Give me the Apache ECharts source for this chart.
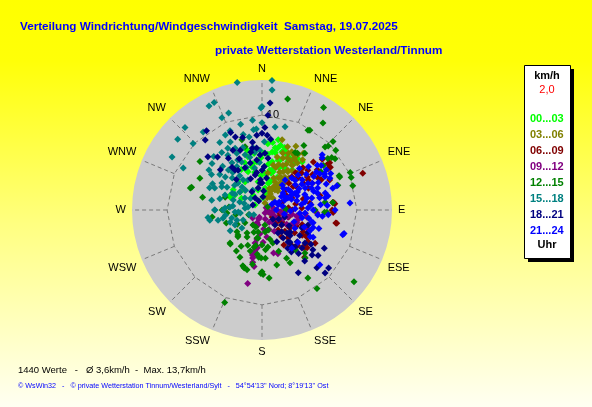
<!DOCTYPE html>
<html>
<head>
<meta charset="utf-8">
<script src="https://cdn.jsdelivr.net/npm/echarts@6/dist/echarts.min.js"></script>
<style>
  html, body { margin: 0; padding: 0; }
  #chart01 { width: 592px; height: 407px; }
</style>
</head>
<body>
<div id="chart01"></div>
<script>
// wind direction names, one per 22.5 degrees, clockwise from north
var dirNames = ['N','NNE','NE','ENE','E','ESE','SE','SSE','S','SSW','SW','WSW','W','WNW','NW','NNW'];
var ringSpeed = 10;     // km/h, dashed ring with label
var maxSpeed = 13.7;    // km/h, edge of the disc

// legend labels (time slots) and their colours
var slotNames = ['00...03','03...06','06...09','09...12','12...15','15...18','18...21','21...24'];
var slotColors = ['#00ff00','#808000','#800000','#800080','#008000','#008080','#000080','#0000ff'];

// [speed km/h, direction deg], one list per slot
var h00_03 = [[7.6,13],[7.1,16],[6.7,12],[6.8,21],[6.4,24],[6.6,35],[6.1,35],[5.3,37],[5.5,18],[4.35,14],[2.9,13],
  [6.5,346],[4.65,347],[4.0,349],[3.6,292],[0.9,305],[4.5,339],
  [6.7,14],[6.2,13],[5.2,12],[4.3,11],[3.4,9],[2.35,8],[1.3,5],[5.1,354],[4.1,350],[3.0,352],[4.3,340],[3.45,329],
  [3.25,299],[3.7,305],[3.7,295],[5.6,20],[6.5,19],[6.2,10],[1.8,329],[2.75,319],[4.2,16],[5.0,349],[3.9,5],[6.6,40],
  [2.15,349],[5.8,28],[4.8,22],[3.2,18],[2.0,15],[5.9,6],[4.6,3],[3.6,358],
  [7.2,9],[7.0,5],[6.0,2],[5.5,359],[4.9,8],[4.0,14],[3.0,15],[2.2,20],[1.5,12],[5.8,345],[5.3,340],[4.8,333],
  [3.9,320],[3.0,310],[2.5,300],[6.2,28],[5.0,28],[3.8,25],[2.6,28],[7.0,20],[6.0,352]];
var h03_06 = [[7.7,16],[7.4,36],[6.5,32],[5.7,34],[5.0,33],[4.2,35],[3.4,34],[2.5,33],[1.6,31],[5.8,16],[4.9,14],[3.95,9],
  [6.6,25],[6.1,26],[5.2,25],[4.4,25],[3.25,25],[2.1,24],[1.4,23],[5.7,34],[4.85,34],[3.85,35],[2.9,36],[1.7,43],
  [6.3,33],[3.8,27],[2.7,26],[4.6,29],[5.5,44],[6.2,37],[6.8,39],[0.8,23],[5.5,28],[4.0,30],[3.0,30],[6.0,30],
  [7.2,22],[6.9,27],[7.0,33],[6.4,20],[5.9,22],[5.1,20],[4.7,18],[3.6,20],[2.4,19],[1.9,28],[5.2,38],[4.4,40],
  [3.6,40],[2.6,40],[6.7,30],[7.6,28]];
var h06_09 = [[11.3,70],[8.7,55],[8.5,58],[5.8,57],[5.1,48],[5.2,57],[7.2,54],[4.1,53],[7.7,85],[5.1,82],[6.3,76],
  [7.5,92],[7.9,100],[5.5,121],[5.9,125],[6.2,130],[6.7,138],
  [5.0,48],[5.7,47],[5.9,54],[4.4,57],[4.7,42],[8.5,55],[8.2,58],[7.5,84],[7.4,90],[8.0,100],[1.85,114],[2.45,121],
  [3.1,121],[3.5,123],[4.2,125],[5.0,122],[5.4,119],[5.9,125],[5.85,129],[0.7,107],[1.3,125],[1.7,127],[2.4,95],
  [3.2,90],[4.2,87],[2.7,141],[3.5,144],[4.35,148],[7.4,47],[6.4,49],[3.4,68],[7.6,84],[6.5,55],[8.3,50],[3.0,60],
  [2.2,70],[4.5,110],[3.8,100],[2.9,105],
  [6.0,62],[6.8,60],[5.4,65],[4.5,75],[3.6,80],[2.8,85],[1.9,100],[1.1,110],[2.0,130],[2.6,128],[3.3,133],[4.0,137],
  [4.8,140],[5.3,135],[6.0,132],[4.9,118],[4.0,115],[6.6,122],[7.0,63],[7.8,66],[6.2,44],[5.3,42],[4.0,45],[3.3,50]];
var h09_12 = [[4.9,160],[3.9,106],[4.6,95],[3.7,100],[7.9,191],[5.15,191],[4.9,190],[4.6,189],[4.0,187],[1.6,195],
  [1.45,201],[3.55,192],[0.6,90],[1.1,101],[0.45,135],[1.2,80],[1.6,90],[3.85,101],[3.9,110],[4.8,99],[2.8,105],
  [2.2,100],[2.0,175],[2.5,185],[1.0,160],[1.8,140],[3.0,120],[0.8,200],[1.3,230],[2.6,150],[4.7,165],[1.7,198],
  [4.85,192],[5.8,93],[5.1,112],
  [0.9,110],[1.4,115],[1.9,120],[2.4,112],[2.0,95],[2.6,92],[3.2,98],[1.5,150],[2.2,160],[2.9,170],[3.4,178],
  [3.1,190],[4.3,190],[5.6,190],[6.0,188],[0.5,60],[1.0,200],[1.8,210],[4.2,100],[3.5,115]];
var h12_15 = [[12.0,13],[12.6,31],[11.2,35],[9.8,31],[9.7,30],[10.4,46],[9.4,45],[9.7,46],[10.0,51],[9.2,53],[8.8,52],
  [8.9,66],[10.1,67],[10.0,70],[9.9,75],[8.1,33],[7.05,32],[8.0,54],[7.4,57],[8.4,72],[7.5,84],[6.85,92],
  [8.3,308],[7.8,288],[7.9,287],[6.4,282],[7.7,344],[4.1,289],[4.2,270],[7.35,297],
  [12.3,128],[8.65,146],[10.1,145],[7.2,174],[6.5,180],[6.7,181],[5.1,176],[6.3,152],[5.7,153],[5.5,140],[3.95,171],
  [3.67,162],[6.4,135],[6.8,138],[2.35,172],[2.35,190],[6.6,92],
  [10.5,202],[6.3,198],[6.4,197],[6.5,194],[6.2,199],[6.8,179],[4.9,223],[3.5,229],[3.8,222],[5.1,212],[3.25,209],
  [4.0,202],[4.5,196],[1.9,200],[3.0,188],[3.8,190],[4.7,186],[5.05,181],[5.0,184],[5.3,262],[3.7,265],
  [7.0,30],[7.5,37],[9.4,55],[8.9,67],[6.7,83],[5.6,90],[2.4,85],[2.5,88],[0.7,60],[2.25,233],[2.9,213],[3.65,224],
  [1.6,169],[2.2,163],[3.7,180],[4.85,224],[6.9,345],[1.85,211],[3.0,190],[4.0,192],
  [3.0,240],[4.0,250],[2.5,200],[4.4,210],[5.5,205],[5.8,190],[4.2,175],[3.2,165],[4.7,158],[6.0,165],[1.5,250],
  [3.5,275],[2.8,260]];
var h15_18 = [[13.7,349],[12.4,336],[12.3,333],[10.8,341],[10.6,336.5],[11.9,317],[11.6,310],[10.1,314],[11.0,300.5],
  [9.4,298],[10.3,323],[9.3,346],[8.8,334],[7.0,307],[7.4,325],[7.9,335],[7.1,336.5],[5.5,295],[5.1,304],[5.2,312],
  [6.0,293],[5.0,322],[5.5,337],[6.1,343],[6.6,352],[10.9,0],[9.2,0],[8.5,354],[5.4,281],[5.0,270],[3.9,273],
  [2.85,266],[2.5,290],[3.6,299.5],[3.2,319],[3.5,335],
  [13.7,4.4],[12.7,4.8],[10.75,359.4],[9.1,15.5],[8.85,9],
  [5.75,262],[5.6,259],[4.95,270],[4.1,270],[3.3,255],[4.75,257],[4.2,258],[2.85,248],[4.0,237],
  [7.45,331],[6.55,336],[5.9,327.5],[5.85,334],[5.5,320],[4.6,317],[3.8,318],[3.75,328],[3.0,309],[3.2,289],
  [4.4,303],[2.2,305],[1.5,282],[3.4,275],[2.5,265],[3.6,249],[3.25,241],[2.85,228],[2.25,242],[6.15,353],[5.7,347],
  [9.5,354],[8.55,356],[1.8,276],[1.4,250],[2.3,262],[1.0,240],
  [6.8,328],[6.2,318],[5.8,310],[4.9,300],[4.2,292],[6.5,305],[7.6,318],[7.2,313],[5.3,330],[4.8,340],[4.3,327],
  [3.9,312],[3.3,300],[2.7,320],[2.3,335],[6.9,343],[7.8,350],[8.2,346],[9.0,338],[8.4,328],[5.9,298],[4.6,285],
  [3.9,262],[3.1,278],[2.0,290],[1.7,315],[4.5,350],[6.3,358],[7.2,2],[5.0,357]];
var h18_21 = [[8.8,338],[8.2,340],[7.9,345],[9.5,321],[8.0,314.5],[7.3,320],[6.1,314],[7.0,334],[6.7,340],[7.9,356],
  [6.6,351],[5.5,325],[4.9,329],[8.1,0],[5.3,354],[4.2,0],[2.85,356],[1.4,4],[11.3,4.3],[10.0,3.6],[7.9,4],[10.2,325],
  [7.7,121.5],[7.6,129],[7.1,132],[8.4,136.5],[9.3,131],[9.4,135],[7.65,150],[5.4,116],[5.7,127.5],[5.8,133.5],
  [5.2,138],[4.35,141],[3.7,143],[2.95,145],[3.75,128],
  [6.55,355],[6.0,3],[5.1,346],[4.8,338],[3.75,349],[2.35,350],[2.85,0],[2.2,331],[1.45,330],[1.1,299],[5.1,326],
  [5.5,6.6],[2.6,127],[3.6,133],[4.5,139],[5.0,132],[5.0,141],[3.1,138],[4.6,114],[2.5,107],[2.1,139],[5.1,108],
  [3.7,155],[4.85,146],
  [3.2,357],[4.0,352],[4.6,3],[5.8,358],[6.2,349],[7.2,352],[3.4,8],[2.0,5],[1.0,340],[5.9,336],[6.5,327],[4.2,320],
  [3.5,340],[7.5,7],[8.7,2],[6.3,125],[6.8,128],[4.0,132],[3.3,120],[4.8,124],[6.0,140],[5.4,145],[2.0,118],
  [1.5,130],[7.0,140]];
var h21_24 = [[8.6,47.5],[7.5,51],[7.9,65],[8.3,72],[6.9,75],[9.3,85.5],[6.0,62],[5.1,63],[3.9,63],[3.0,65],
  [9.0,106],[5.55,104],[5.5,113],[6.1,118],[8.4,133.5],[4.3,101],[3.96,119],[5.1,132],[5.1,142],
  [7.5,62],[8.4,49],[6.3,68.5],[4.2,63],[3.5,63],[2.6,66.5],[5.3,53],[4.4,53],[3.5,52],[5.4,76.5],[4.6,79.5],
  [6.8,79],[4.85,87.5],[5.4,90],[5.4,103.5],[5.9,95],[7.8,73],[4.0,37.5],[3.4,39],[4.6,43],[5.3,46],[2.85,51],
  [1.6,58],[1.8,72],[8.9,107],[5.7,109],[5.8,119],[7.0,94],[4.55,94],[6.5,57],[5.8,70],[4.8,70],[3.8,75],[2.2,80],
  [6.2,85],[7.2,58],[3.2,45],[2.5,55],
  [7.0,55],[7.6,60],[6.6,64],[6.1,73],[5.6,60],[5.0,57],[4.5,60],[4.0,68],[3.3,70],[2.8,60],[2.0,65],[1.2,60],
  [6.0,51],[5.7,66],[4.9,75],[4.2,82],[3.5,88],[7.3,68],[8.0,58],[6.9,86],[6.4,96],[5.0,100],[4.0,95],[3.0,92],
  [2.4,100],[1.5,90],[3.6,57],[4.7,48],[5.9,42],[6.7,47],[7.8,53],[6.2,78],[5.2,84],[8.2,62],[7.1,78],[7.7,90],
  [6.3,108],[4.8,112],[3.6,110]];
var slotData = [h00_03, h03_06, h06_09, h09_12, h12_15, h15_18, h18_21, h21_24];

var chart01 = echarts.init(document.getElementById('chart01'));
var font = 'Arial, "Liberation Sans", sans-serif';

var dirAngles = dirNames.map(function (n, i) { return i * 22.5; });

// dashed grid: 16-gon at ringSpeed and the spokes outside it
var gridSeries = [{
  type: 'line', coordinateSystem: 'polar', silent: true, symbol: 'none', z: 1,
  lineStyle: { color: '#7a7a7a', width: 1, type: [4, 3] },
  data: dirAngles.concat([360]).map(function (a) { return [ringSpeed, a]; })
}];
dirAngles.forEach(function (a) {
  gridSeries.push({
    type: 'line', coordinateSystem: 'polar', silent: true, symbol: 'none', z: 1,
    lineStyle: { color: '#7a7a7a', width: 1, type: [4, 3] },
    data: [[ringSpeed, a], [maxSpeed, a]]
  });
});

var pointSeries = slotNames.map(function (name, i) {
  return {
    name: name,
    type: 'scatter',
    coordinateSystem: 'polar',
    symbol: 'diamond',
    symbolSize: 7,
    z: 2,
    itemStyle: { color: slotColors[i], opacity: 1 },
    data: slotData[i]
  };
});

var option_c01 = {
  animation: false,
  backgroundColor: {
    type: 'linear', x: 0, y: 0, x2: 0, y2: 1,
    colorStops: [
      { offset: 0, color: '#ffff00' },
      { offset: 0.15, color: '#ffff08' },
      { offset: 0.55, color: '#ffff80' },
      { offset: 1, color: '#fffff2' }
    ]
  },
  title: [
    {
      text: 'Verteilung Windrichtung/Windgeschwindigkeit  Samstag, 19.07.2025',
      left: 15, top: 16,
      textStyle: { color: '#0000ff', fontSize: 11.7, fontWeight: 'bold', fontFamily: font }
    },
    {
      text: 'private Wetterstation Westerland/Tinnum',
      left: 210, top: 40,
      textStyle: { color: '#0000ff', fontSize: 11.7, fontWeight: 'bold', fontFamily: font }
    }
  ],
  polar: { center: [262, 210], radius: 130 },
  angleAxis: {
    type: 'value', min: 0, max: 360, interval: 22.5,
    startAngle: 90, clockwise: true,
    axisLine: { show: false },
    axisTick: { show: false },
    splitLine: { show: false },
    splitArea: { show: true, areaStyle: { color: ['#cccccc'] } },
    axisLabel: {
      margin: 6, color: '#000', fontSize: 11, fontFamily: font,
      formatter: function (v) {
        var i = Math.round(v / 22.5);
        return i < 16 ? dirNames[i] : '';
      }
    }
  },
  radiusAxis: {
    min: 0, max: maxSpeed, interval: 10,
    axisLine: { show: false },
    axisTick: { show: false },
    splitLine: { show: false },
    axisLabel: {
      margin: -17, color: '#000', fontSize: 11, fontFamily: font,
      formatter: function (v) { return v === ringSpeed ? String(v) : ''; }
    }
  },
  legend: {
    orient: 'vertical',
    left: 520, top: 108,
    icon: 'none', itemWidth: 0, itemHeight: 12, itemGap: 4.5,
    selectedMode: false,
    textStyle: { fontSize: 11, fontWeight: 'bold', fontFamily: font },
    data: slotNames.map(function (n, i) {
      return { name: n, textStyle: { color: slotColors[i] } };
    })
  },
  graphic: [
    { type: 'rect', left: 528, top: 69, shape: { width: 46, height: 193 }, style: { fill: '#000' }, z: 0 },
    { type: 'rect', left: 524, top: 65, shape: { width: 46, height: 193 }, style: { fill: '#fff', stroke: '#000', lineWidth: 1 }, z: 1 },
    { type: 'text', x: 547, y: 76, z: 2, style: { text: 'km/h', fill: '#000', font: 'bold 11px ' + font, align: 'center', verticalAlign: 'middle' } },
    { type: 'text', x: 547, y: 90, z: 2, style: { text: '2,0', fill: '#ff0000', font: '11px ' + font, align: 'center', verticalAlign: 'middle' } },
    { type: 'text', x: 547, y: 245, z: 2, style: { text: 'Uhr', fill: '#000', font: 'bold 11px ' + font, align: 'center', verticalAlign: 'middle' } },
    { type: 'text', x: 18, y: 370, style: { text: '1440 Werte   -   Ø 3,6km/h  -  Max. 13,7km/h', fill: '#000', font: '9.5px ' + font, verticalAlign: 'middle' } },
    { type: 'text', x: 18, y: 386, style: { text: "© WsWin32   -   © private Wetterstation Tinnum/Westerland/Sylt   -   54°54'13'' Nord; 8°19'13'' Ost", fill: '#0000ff', font: '7.2px ' + font, verticalAlign: 'middle' } }
  ],
  series: gridSeries.concat(pointSeries)
};

chart01.setOption(option_c01);
</script>
</body>
</html>
